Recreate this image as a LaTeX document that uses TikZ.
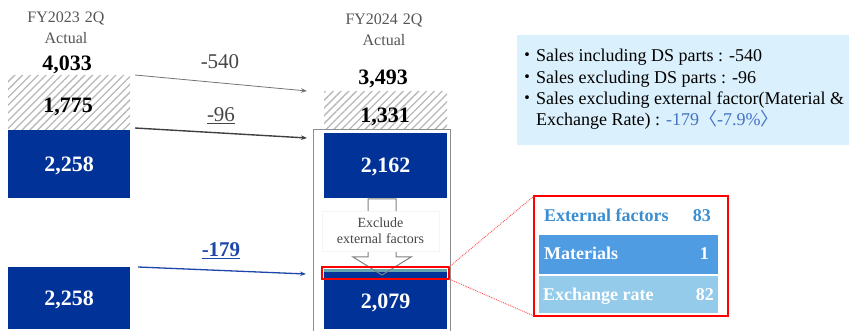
\documentclass[tikz,border=0pt]{standalone}
\usepackage{fontspec}
\setmainfont{Liberation Serif}
\newfontfamily\cjk{Noto Sans CJK JP}
\usetikzlibrary{arrows.meta,patterns.meta}
\definecolor{dblue}{RGB}{0,50,152}
\definecolor{lblue}{RGB}{218,240,252}
\definecolor{midblue}{RGB}{68,114,196}
\definecolor{extblue}{RGB}{58,142,208}
\definecolor{matblue}{RGB}{80,156,226}
\definecolor{exblue}{RGB}{148,203,234}
\definecolor{stripc}{RGB}{100,165,175}
\definecolor{arrblue}{RGB}{30,70,170}
\definecolor{hdrgray}{RGB}{85,85,85}
\definecolor{lblgray}{RGB}{70,70,70}
\tikzset{
  box/.style={rectangle, inner sep=0pt, outer sep=0pt, anchor=north west},
  bignum/.style={font=\fontsize{22}{22}\selectfont\bfseries, text height=15pt, text depth=0pt, inner sep=0pt},
  bluebox/.style={box, bignum, fill=dblue, text=white},
  hatchbox/.style={box, pattern={Lines[angle=45,distance=5.5pt,line width=1.3pt]}, pattern color=black!28},
  hdr/.style={font=\fontsize{16}{21}\selectfont, text=hdrgray, align=center, inner sep=0pt},
  diff/.style={font=\fontsize{21}{21}\selectfont, inner sep=0pt, anchor=base},
  infotext/.style={font=\fontsize{18}{18}\selectfont, inner sep=0pt, anchor=base west},
  paneltext/.style={font=\fontsize{18}{18}\selectfont\bfseries, text height=12pt, text depth=0pt, inner sep=0pt},
  arrtip/.style={-{Stealth[length=6pt,width=4.5pt]}}
}
\begin{document}
\begin{tikzpicture}[x=1pt,y=-1pt]
\useasboundingbox (0,0) rectangle (849,331);

% ---------- left column (FY2023) ----------
\node[hdr] (hdr23) at (66,28) {FY2023\hspace{5pt}2Q\\Actual};
\node[bignum] (tot23) at (67,63.5) {4,033};
\node[hatchbox, minimum width=122, minimum height=54] (h23) at (8,76) {};
\node[bignum] (ds23) at (68,105.5) {1,775};
\node[bluebox, minimum width=122, minimum height=68] (b23) at (8,130) {2,258};
\node[bluebox, minimum width=122, minimum height=62] (c23) at (8,267) {2,258};

% ---------- right column (FY2024) ----------
\node[hdr] (hdr24) at (384,30) {FY2024\hspace{5pt}2Q\\Actual};
\node[bignum] (tot24) at (383,77) {3,493};
\node[hatchbox, minimum width=123, minimum height=38] (h24) at (324,92) {};
\node[bignum] (ds24) at (385,115) {1,331};
\node[box, draw=black!45, line width=1pt, minimum width=137, minimum height=205] (frame) at (313,130) {};
\node[bluebox, minimum width=123, minimum height=65] (b24) at (324,133) {2,162};
\node[box, fill=stripc, minimum width=123, minimum height=3] (strip) at (324,269) {};
\node[bluebox, minimum width=123, minimum height=57] (c24) at (324,272) {2,079};

% down arrow outline "exclude external factors"
\draw[black!50, line width=1pt, line join=miter] (368,199) -- (368,257) -- (353,257) -- (382,275) -- (411,257) -- (396,257) -- (396,199) -- cycle;
\node[box, fill=white, draw=black!4, minimum width=117, minimum height=40] (exclbox) at (322,211) {};
\node[font=\fontsize{14}{16}\selectfont, text=lblgray, align=center, inner sep=0pt] (excl) at (exclbox.center) {Exclude\\external\hspace{4pt}factors};
\node[box, draw=red, line width=1.3pt, minimum width=127, minimum height=12] (redsmall) at (322,267) {};

% ---------- connectors ----------
\coordinate (a1s) at (135,75);  \coordinate (a1e) at (307,91);
\coordinate (a2s) at (135,128); \coordinate (a2e) at (307,138);
\coordinate (a3s) at (138,267); \coordinate (a3e) at (306,274);
\draw[arrtip, black!55, line width=0.8pt] (a1s) -- (a1e);
\draw[arrtip, black!75, line width=1.4pt] (a2s) -- (a2e);
\draw[arrtip, arrblue, line width=1.3pt] (a3s) -- (a3e);
\node[diff, text=lblgray] (d540) at (220,69) {-540};
\node[diff, text=lblgray] (d96) at (221,122) {\underline{-96}};
\node[diff, text=arrblue, font=\fontsize{21}{21}\selectfont\bfseries] (d179) at (221,257) {\underline{-179}};

% ---------- info box ----------
\node[box, fill=lblue, minimum width=333, minimum height=110] (info) at (517,35) {};
\node[infotext] (i1) at (518,62) {{\cjk ・}Sales including DS parts : -540};
\node[infotext] (i2) at (518,84) {{\cjk ・}Sales excluding DS parts : -96};
\node[infotext] (i3) at (518,105) {{\cjk ・}Sales excluding external factor(Material \&};
\node[infotext] (i4) at (536,126) {Exchange Rate) : \textcolor{midblue}{-179{\cjk 〈}-7.9\%{\cjk 〉}}};

% ---------- external factors panel ----------
\node[box, draw=red, line width=1.2pt, minimum width=194, minimum height=120] (panel) at (534,196) {};
\node[box, fill=matblue, minimum width=179, minimum height=39] (mat) at (539,235) {};
\node[box, fill=exblue, minimum width=179, minimum height=37] (exr) at (539,276) {};
\node[paneltext, text=extblue, anchor=west] (extl) at (544,216) {External factors};
\node[paneltext, text=extblue, anchor=east] (extv) at (711,216) {83};
\node[paneltext, text=white, anchor=west] (matl) at (544,253) {Materials};
\node[paneltext, text=white, anchor=east] (matv) at (709,253) {1};
\node[paneltext, text=white, anchor=west] (exrl) at (543,295) {Exchange rate};
\node[paneltext, text=white, anchor=east] (exrv) at (714,295) {82};

\draw[red!70, densely dotted, line width=0.9pt] (redsmall.north east) -- (panel.north west);
\draw[red!70, densely dotted, line width=0.9pt] (redsmall.south east) -- (panel.south west);
\end{tikzpicture}
\end{document}
